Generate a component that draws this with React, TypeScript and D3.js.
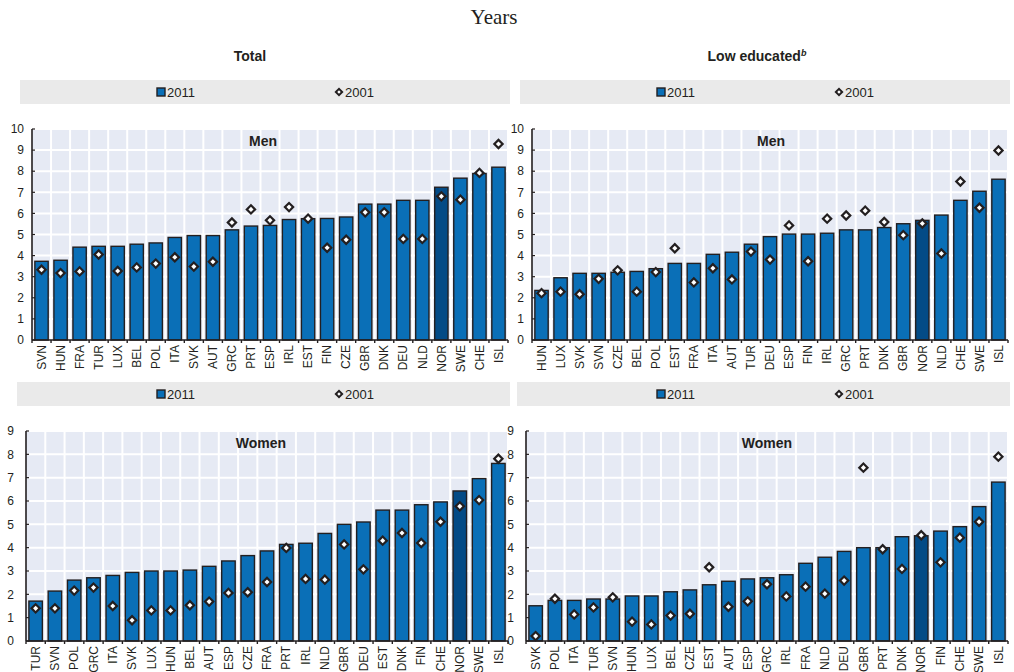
import React from 'react';
import * as d3 from 'd3';

// ---------- DATA ----------
const totalMenCountries = ['SVN','HUN','FRA','TUR','LUX','BEL','POL','ITA','SVK','AUT','GRC','PRT','ESP','IRL','EST','FIN','CZE','GBR','DNK','DEU','NLD','NOR','SWE','CHE','ISL'];
const totalMen2011 = [3.73,3.78,4.4,4.44,4.44,4.54,4.6,4.86,4.95,4.95,5.22,5.4,5.43,5.71,5.75,5.76,5.83,6.44,6.44,6.62,6.62,7.24,7.67,7.89,8.19];
const totalMen2001 = [3.33,3.17,3.25,4.05,3.27,3.44,3.62,3.92,3.48,3.71,5.57,6.19,5.67,6.3,5.75,4.37,4.75,6.05,6.05,4.79,4.79,6.81,6.65,7.92,9.29];

const lowMenCountries = ['HUN','LUX','SVK','SVN','CZE','BEL','POL','EST','FRA','ITA','AUT','TUR','DEU','ESP','FIN','IRL','GRC','PRT','DNK','GBR','NOR','NLD','CHE','SWE','ISL'];
const lowMen2011 = [2.35,2.95,3.16,3.16,3.21,3.25,3.38,3.63,3.63,4.06,4.16,4.54,4.9,5.02,5.02,5.06,5.22,5.22,5.33,5.51,5.67,5.92,6.62,7.05,7.62];
const lowMen2001 = [2.22,2.29,2.17,2.9,3.3,2.29,3.22,4.35,2.73,3.4,2.87,4.19,3.81,5.43,3.73,5.75,5.9,6.13,5.59,4.97,5.52,4.1,7.51,6.27,8.98];

const totalWomenCountries = ['TUR','SVN','POL','GRC','ITA','SVK','LUX','HUN','BEL','AUT','ESP','CZE','FRA','PRT','IRL','NLD','GBR','DEU','EST','DNK','FIN','CHE','NOR','SWE','ISL'];
const totalWomen2011 = [1.71,2.14,2.61,2.71,2.81,2.94,3.0,3.0,3.04,3.2,3.43,3.66,3.86,4.14,4.19,4.61,5.0,5.1,5.61,5.61,5.84,5.96,6.43,6.96,7.61];
const totalWomen2001 = [1.4,1.4,2.16,2.29,1.5,0.89,1.31,1.31,1.53,1.69,2.06,2.09,2.53,3.99,2.66,2.63,4.14,3.07,4.3,4.63,4.2,5.11,5.77,6.04,7.81];

const lowWomenCountries = ['SVK','POL','ITA','TUR','SVN','HUN','LUX','BEL','CZE','EST','AUT','ESP','GRC','IRL','FRA','NLD','DEU','GBR','PRT','DNK','NOR','FIN','CHE','SWE','ISL'];
const lowWomen2011 = [1.51,1.74,1.74,1.8,1.8,1.93,1.93,2.11,2.19,2.41,2.56,2.66,2.71,2.84,3.33,3.59,3.84,4.0,4.0,4.47,4.51,4.71,4.9,5.76,6.81];
const lowWomen2001 = [0.21,1.81,1.14,1.44,1.87,0.83,0.71,1.09,1.17,3.16,1.47,1.7,2.43,1.91,2.33,2.03,2.59,7.43,3.93,3.09,4.53,3.37,4.43,5.11,7.9];

const seriesNames = ['2011', '2001'];
const highlight = 'NOR';

// ---------- STYLE / LAYOUT ----------
const FONT = "'Liberation Sans Narrow', 'Arial Narrow', 'Liberation Sans', Arial, sans-serif";
const BAR = '#0a6fb7';
const BAR_HL = '#034b86';
const PLOT_BG = '#e6eaf4';
const LEGEND_BG = '#eaeaea';
const INK = '#231f20';

const panels = [
  { countries: totalMenCountries, v2011: totalMen2011, v2001: totalMen2001, label: 'Men', x0: 32, x1: 508, yTop: 129, yBottom: 340, max: 10, labelX: 263, labelY: 146, tickGap: 8 },
  { countries: lowMenCountries, v2011: lowMen2011, v2001: lowMen2001, label: 'Men', x0: 532, x1: 1008, yTop: 129, yBottom: 340, max: 10, labelX: 771, labelY: 146, tickGap: 8 },
  { countries: totalWomenCountries, v2011: totalWomen2011, v2001: totalWomen2001, label: 'Women', x0: 26, x1: 508, yTop: 431, yBottom: 641, max: 9, labelX: 261, labelY: 448, tickGap: 12 },
  { countries: lowWomenCountries, v2011: lowWomen2011, v2001: lowWomen2001, label: 'Women', x0: 526, x1: 1008, yTop: 431, yBottom: 641, max: 9, labelX: 767, labelY: 448, tickGap: 12 },
];

const legends = [
  { x0: 20, x1: 510, y: 80, sqX: 157, dX: 339 },
  { x0: 520, x1: 1010, y: 80, sqX: 657, dX: 839 },
  { x0: 17, x1: 510, y: 382, sqX: 157, dX: 339 },
  { x0: 517, x1: 1010, y: 382, sqX: 657, dX: 839 },
];

const diamondPath = d3.symbol(d3.symbolSquare, 34)() as string;
const legendDiamond = d3.symbol(d3.symbolSquare, 20)() as string;

function Panel({ p }: { p: typeof panels[number] }) {
  const x = d3.scaleBand<string>().domain(p.countries).range([p.x0, p.x1]).paddingInner(0.3).paddingOuter(0.15);
  const y = d3.scaleLinear().domain([0, p.max]).range([p.yBottom, p.yTop]);
  const yTicks = d3.range(0, p.max + 1);
  const step = x.step();
  const bounds = d3.range(0, p.countries.length + 1).map((i) => p.x0 + i * step);
  return (
    <g>
      <rect x={p.x0} y={p.yTop} width={p.x1 - p.x0} height={p.yBottom - p.yTop} fill={PLOT_BG} />
      {yTicks.slice(1).map((t) => (
        <line key={'h' + t} x1={p.x0} x2={p.x1} y1={y(t)} y2={y(t)} stroke="#fff" strokeWidth={2} />
      ))}
      {bounds.slice(1).map((bx, i) => (
        <line key={'v' + i} x1={bx} x2={bx} y1={p.yTop} y2={p.yBottom} stroke="#fff" strokeWidth={2} />
      ))}
      {p.countries.map((c, i) => (
        <rect key={'b' + c} x={x(c)!} y={y(p.v2011[i])} width={x.bandwidth()} height={p.yBottom - y(p.v2011[i])}
          fill={c === highlight ? BAR_HL : BAR} stroke={INK} strokeWidth={1.4} />
      ))}
      {p.countries.map((c, i) => (
        <path key={'d' + c} d={diamondPath}
          transform={`translate(${x(c)! + x.bandwidth() / 2},${y(p.v2001[i])}) rotate(45)`}
          fill="#fff" stroke={INK} strokeWidth={2.2} />
      ))}
      {/* axes */}
      <line x1={p.x0} x2={p.x1} y1={p.yBottom} y2={p.yBottom} stroke={INK} strokeWidth={1.6} />
      <line x1={p.x0} x2={p.x0} y1={p.yTop} y2={p.yBottom} stroke={INK} strokeWidth={1.6} />
      {bounds.map((bx, i) => (
        <line key={'xt' + i} x1={bx} x2={bx} y1={p.yBottom} y2={p.yBottom + 3} stroke={INK} strokeWidth={1.4} />
      ))}
      {yTicks.map((t) => (
        <line key={'yt' + t} x1={p.x0} x2={p.x0 + 3} y1={y(t)} y2={y(t)} stroke={INK} strokeWidth={1.2} />
      ))}
      {yTicks.map((t) => (
        <text key={'yl' + t} x={p.x0 - p.tickGap} y={y(t)} dy="0.35em" textAnchor="end" fontSize={12} fill={INK} fontFamily={FONT}>{t}</text>
      ))}
      {p.countries.map((c) => {
        const cx = x(c)! + x.bandwidth() / 2;
        const ty = p.yBottom + 5;
        return (
          <text key={'xl' + c} transform={`translate(${cx},${ty}) rotate(-90)`} dy="0.35em" textAnchor="end" fontSize={12} fill={INK} fontFamily={FONT}>{c}</text>
        );
      })}
      <text x={p.labelX} y={p.labelY} textAnchor="middle" fontSize={14} fontWeight="bold" fill={INK} fontFamily={FONT}>{p.label}</text>
    </g>
  );
}

function Legend({ l }: { l: typeof legends[number] }) {
  const cy = l.y + 12;
  return (
    <g>
      <rect x={l.x0} y={l.y} width={l.x1 - l.x0} height={24} fill={LEGEND_BG} />
      <rect x={l.sqX} y={cy - 4} width={8} height={8} fill={BAR} stroke={INK} strokeWidth={1.4} />
      <text x={l.sqX + 10} y={cy} dy="0.36em" fontSize={13} fill={INK} fontFamily={FONT}>{seriesNames[0]}</text>
      <path d={legendDiamond} transform={`translate(${l.dX},${cy}) rotate(45)`} fill="#fff" stroke={INK} strokeWidth={2} />
      <text x={l.dX + 6} y={cy} dy="0.36em" fontSize={13} fill={INK} fontFamily={FONT}>{seriesNames[1]}</text>
    </g>
  );
}

export default function App() {
  return (
    <svg width={1014} height={672} style={{ position: 'absolute', left: 0, top: 0, background: '#fff' }}>
      <text x={494} y={24} textAnchor="middle" fontSize={21} fill={INK} fontFamily="'Liberation Serif', 'Times New Roman', serif">Years</text>
      <text x={250} y={61} textAnchor="middle" fontSize={14} fontWeight="bold" fill={INK} fontFamily={FONT}>Total</text>
      <text x={757} y={61} textAnchor="middle" fontSize={14} fontWeight="bold" fill={INK} fontFamily={FONT}>
        Low educated<tspan fontSize={9} fontStyle="italic" dy={-5}>b</tspan>
      </text>
      {legends.map((l, i) => <Legend key={i} l={l} />)}
      {panels.map((p, i) => <Panel key={i} p={p} />)}
    </svg>
  );
}
